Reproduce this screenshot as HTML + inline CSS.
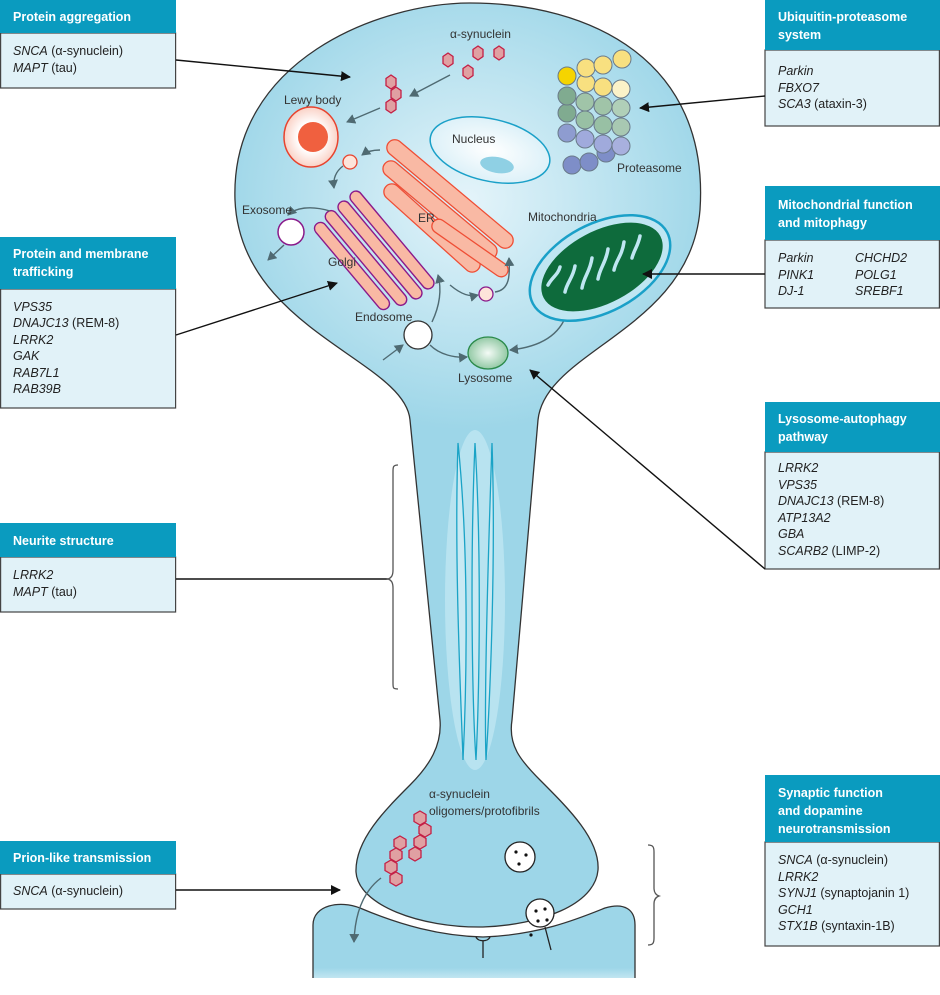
<!DOCTYPE html>
<html><head><meta charset="utf-8"><style>
body{margin:0;background:#fff;}
svg{display:block;font-family:"Liberation Sans",sans-serif;}
.h{fill:#fff;font-size:12.5px;font-weight:bold;}
.t{fill:#222;font-size:12.5px;}
.l{fill:#333;font-size:12px;}
</style></head><body>
<svg width="940" height="995" viewBox="0 0 940 995" xmlns="http://www.w3.org/2000/svg">
<defs>
<radialGradient id="cg" cx="0.5" cy="0.5" r="0.5"><stop offset="0" stop-color="#e4f4fa"/><stop offset="1" stop-color="#9dd6e8"/></radialGradient>
<linearGradient id="pg" x1="0" y1="0" x2="0" y2="1"><stop offset="0.7" stop-color="#9dd6e8"/><stop offset="1" stop-color="#ffffff"/></linearGradient>
<radialGradient id="ng" cx="0.5" cy="0.5" r="0.6"><stop offset="0" stop-color="#fff"/><stop offset="1" stop-color="#d6eef7"/></radialGradient>
<radialGradient id="lg" cx="0.5" cy="0.5" r="0.6"><stop offset="0" stop-color="#f4fbf6"/><stop offset="1" stop-color="#7fbf95"/></radialGradient>
<radialGradient id="lb" cx="0.5" cy="0.5" r="0.6"><stop offset="0.4" stop-color="#fff"/><stop offset="1" stop-color="#f8c0b0"/></radialGradient>
<clipPath id="nc"><path id="np" d="M410,420 C405,360 240,330 235,200 C230,60 380,3 470,3 C590,3 710,60 700,210 C690,330 545,350 538,420 L512,720 C508,745 520,760 540,780 C570,810 600,840 598,870 C595,905 540,925 483,927 C420,928 358,905 356,872 C355,840 385,810 410,785 C430,765 442,745 440,720 Z"/></clipPath>
<marker id="a" markerWidth="10" markerHeight="10" refX="9" refY="5" orient="auto" markerUnits="userSpaceOnUse"><path d="M0,0 L10,5 L0,10 z" fill="#111"/></marker>
<marker id="g" markerWidth="10" markerHeight="10" refX="8" refY="5" orient="auto" markerUnits="userSpaceOnUse"><path d="M0,0 L9,5 L0,10 z" fill="#4f6a72"/></marker>
</defs>

<!-- postsynaptic -->
<path d="M313,925 C313,905 340,900 360,908 C400,925 440,936 483,937 C540,935 580,918 605,908 C625,902 635,910 635,925 L635,995 L313,995 Z" fill="url(#pg)" stroke="#333" stroke-width="1.3"/>
<rect x="311" y="978" width="330" height="17" fill="#fff"/>

<!-- neuron -->
<g clip-path="url(#nc)">
<rect x="0" y="0" width="940" height="995" fill="#9dd6e8"/>
<ellipse cx="468" cy="200" rx="250" ry="230" fill="url(#cg)"/>
<ellipse cx="475" cy="600" rx="30" ry="170" fill="#b8e3f0"/>
</g>
<path d="M410,420 C405,360 240,330 235,200 C230,60 380,3 470,3 C590,3 710,60 700,210 C690,330 545,350 538,420 L512,720 C508,745 520,760 540,780 C570,810 600,840 598,870 C595,905 540,925 483,927 C420,928 358,905 356,872 C355,840 385,810 410,785 C430,765 442,745 440,720 Z" fill="none" stroke="#333" stroke-width="1.3"/>

<!-- microtubules -->
<g fill="#c8e9f3" stroke="#1aa3c6" stroke-width="1.3">
<path d="M458,443 C454,560 461,700 463,760 C466,700 470,560 458,443Z"/>
<path d="M475,443 C470,560 472,700 476,760 C479,700 482,560 475,443Z"/>
<path d="M492,443 C488,560 484,700 486,760 C490,700 496,560 492,443Z"/>
</g>

<!-- Lewy body -->
<ellipse cx="311" cy="137" rx="27" ry="30" fill="url(#lb)" stroke="#e8432e" stroke-width="1.5"/>
<circle cx="313" cy="137" r="15" fill="#f0603f"/>
<text class="l" x="284" y="104">Lewy body</text>

<!-- hexagons -->
<g fill="#e0a0a2" stroke="#c41f45" stroke-width="1.3">
<path d="M0,-7 L5,-3.5 L5,3.5 L0,7 L-5,3.5 L-5,-3.5Z" transform="translate(448,60)"/>
<path d="M0,-7 L5,-3.5 L5,3.5 L0,7 L-5,3.5 L-5,-3.5Z" transform="translate(478,53)"/>
<path d="M0,-7 L5,-3.5 L5,3.5 L0,7 L-5,3.5 L-5,-3.5Z" transform="translate(499,53)"/>
<path d="M0,-7 L5,-3.5 L5,3.5 L0,7 L-5,3.5 L-5,-3.5Z" transform="translate(468,72)"/>
<path d="M0,-7 L5,-3.5 L5,3.5 L0,7 L-5,3.5 L-5,-3.5Z" transform="translate(391,82)"/>
<path d="M0,-7 L5,-3.5 L5,3.5 L0,7 L-5,3.5 L-5,-3.5Z" transform="translate(396,94)"/>
<path d="M0,-7 L5,-3.5 L5,3.5 L0,7 L-5,3.5 L-5,-3.5Z" transform="translate(391,106)"/>
<path d="M0,-7 L6,-3.5 L6,3.5 L0,7 L-6,3.5 L-6,-3.5Z" transform="translate(420,818)"/>
<path d="M0,-7 L6,-3.5 L6,3.5 L0,7 L-6,3.5 L-6,-3.5Z" transform="translate(425,830)"/>
<path d="M0,-7 L6,-3.5 L6,3.5 L0,7 L-6,3.5 L-6,-3.5Z" transform="translate(420,842)"/>
<path d="M0,-7 L6,-3.5 L6,3.5 L0,7 L-6,3.5 L-6,-3.5Z" transform="translate(415,854)"/>
<path d="M0,-7 L6,-3.5 L6,3.5 L0,7 L-6,3.5 L-6,-3.5Z" transform="translate(400,843)"/>
<path d="M0,-7 L6,-3.5 L6,3.5 L0,7 L-6,3.5 L-6,-3.5Z" transform="translate(396,855)"/>
<path d="M0,-7 L6,-3.5 L6,3.5 L0,7 L-6,3.5 L-6,-3.5Z" transform="translate(391,867)"/>
<path d="M0,-7 L6,-3.5 L6,3.5 L0,7 L-6,3.5 L-6,-3.5Z" transform="translate(396,879)"/>
</g>
<text class="l" x="450" y="38">α-synuclein</text>

<!-- ER -->
<g fill="#f9b9a4" stroke="#ef4e35" stroke-width="1.3">
<rect x="-80" y="-8" width="160" height="16" rx="8" transform="translate(450,194) rotate(40)"/>
<rect x="-72" y="-8" width="144" height="16" rx="8" transform="translate(440,210) rotate(40)"/>
<rect x="-62" y="-8" width="124" height="16" rx="8" transform="translate(432,228) rotate(42)"/>
<rect x="-45" y="-7" width="90" height="14" rx="7" transform="translate(470,248) rotate(35)"/>
</g>
<!-- Golgi -->
<g fill="#f9b9a4" stroke="#8a1a8a" stroke-width="1.4">
<rect x="-62" y="-6" width="124" height="12" rx="6" transform="translate(392,240) rotate(50)"/>
<rect x="-62" y="-6" width="124" height="12" rx="6" transform="translate(380,250) rotate(50)"/>
<rect x="-60" y="-6" width="120" height="12" rx="6" transform="translate(366,258) rotate(50)"/>
<rect x="-55" y="-6" width="110" height="12" rx="6" transform="translate(352,266) rotate(50)"/>
</g>

<!-- grey arrows -->
<g fill="none" stroke="#4f6a72" stroke-width="1.4" marker-end="url(#g)">
<path d="M450,75 L410,96"/>
<path d="M380,108 L347,122"/>
<path d="M380,150 C372,150 366,152 362,155"/>
<path d="M343,166 C335,172 333,180 334,188"/>
<path d="M330,211 C310,205 295,208 288,215"/>
<path d="M284,245 L268,260"/>
<path d="M383,360 L403,345"/>
<path d="M432,322 C440,305 442,290 438,275"/>
<path d="M430,345 C440,355 455,358 467,357"/>
<path d="M450,285 C462,295 470,297 478,295"/>
<path d="M495,292 C510,290 510,275 509,258"/>
<path d="M567,313 C560,335 540,347 510,350"/>
<path d="M381,878 C365,890 355,910 354,942"/>
</g>

<circle cx="291" cy="232" r="13" fill="#fff" stroke="#8a1a8a" stroke-width="1.5"/>
<circle cx="350" cy="162" r="7" fill="#fde4da" stroke="#e8432e" stroke-width="1.3"/>
<circle cx="486" cy="294" r="7" fill="#fde4da" stroke="#8a1a8a" stroke-width="1.3"/>
<circle cx="418" cy="335" r="14" fill="#fff" stroke="#333" stroke-width="1.3"/>
<ellipse cx="488" cy="353" rx="20" ry="16" fill="url(#lg)" stroke="#2a8a4a" stroke-width="1.3"/>
<text class="l" x="418" y="222">ER</text>
<text class="l" x="328" y="266">Golgi</text>
<text class="l" x="242" y="214">Exosome</text>
<text class="l" x="355" y="321">Endosome</text>
<text class="l" x="458" y="382">Lysosome</text>

<!-- Nucleus -->
<ellipse cx="490" cy="150" rx="61" ry="31" transform="rotate(13 490 150)" fill="url(#ng)" stroke="#1aa0c8" stroke-width="1.5"/>
<ellipse cx="497" cy="165" rx="17" ry="8" transform="rotate(10 497 165)" fill="#8fd0e4"/>
<text class="l" x="452" y="143">Nucleus</text>

<!-- Proteasome -->
<g stroke="#6a7a8a" stroke-width="1">
<circle cx="572" cy="165" r="9" fill="#7e8ec8"/><circle cx="589" cy="162" r="9" fill="#7e8ec8"/><circle cx="606" cy="153" r="9" fill="#7e8ec8"/>
<circle cx="567" cy="133" r="9" fill="#8e9cd0"/><circle cx="585" cy="139" r="9" fill="#a0aadc"/><circle cx="603" cy="144" r="9" fill="#a0aadc"/><circle cx="621" cy="146" r="9" fill="#a8b0de"/>
<circle cx="567" cy="113" r="9" fill="#80ab90"/><circle cx="585" cy="120" r="9" fill="#98c0a4"/><circle cx="603" cy="125" r="9" fill="#98c0a4"/><circle cx="621" cy="127" r="9" fill="#a8c8b2"/>
<circle cx="567" cy="96" r="9" fill="#80ab90"/><circle cx="585" cy="102" r="9" fill="#a0c4a8"/><circle cx="603" cy="106" r="9" fill="#a0c4a8"/><circle cx="621" cy="108" r="9" fill="#b0cfb8"/>
<circle cx="567" cy="76" r="9" fill="#f5d400"/><circle cx="586" cy="83" r="9" fill="#f8e080"/><circle cx="603" cy="87" r="9" fill="#f8e080"/><circle cx="621" cy="89" r="9" fill="#fbf2c8"/>
<circle cx="586" cy="68" r="9" fill="#f8e080"/><circle cx="603" cy="65" r="9" fill="#f8e080"/><circle cx="622" cy="59" r="9" fill="#f8e080"/>
</g>
<text class="l" x="617" y="172">Proteasome</text>

<!-- Mitochondria -->
<ellipse cx="600" cy="268" rx="76" ry="44" transform="rotate(-28 600 268)" fill="#bfe6f2" stroke="#1aa0c8" stroke-width="2.5"/>
<ellipse cx="602" cy="267" rx="66" ry="36" transform="rotate(-28 602 267)" fill="#0e6b3c"/>
<g stroke="#bfe6f2" stroke-width="3.5" fill="none" stroke-linecap="round">
<path d="M548,285 c4,-8 10,-10 12,-18"/><path d="M565,292 c2,-10 8,-14 10,-26"/><path d="M582,288 c2,-12 8,-16 10,-30"/><path d="M598,279 c2,-12 8,-16 10,-30"/><path d="M614,270 c2,-10 8,-14 10,-28"/><path d="M632,258 c2,-8 6,-12 8,-22"/>
</g>
<text class="l" x="528" y="221">Mitochondria</text>

<!-- terminal -->
<text class="l" x="429" y="798">α-synuclein</text>
<text class="l" x="429" y="815">oligomers/protofibrils</text>
<circle cx="520" cy="857" r="15" fill="#fff" stroke="#222" stroke-width="1.3"/>
<g fill="#111"><circle cx="516" cy="852" r="1.6"/><circle cx="526" cy="855" r="1.6"/><circle cx="519" cy="864" r="1.6"/></g>
<circle cx="540" cy="913" r="14" fill="#fff" stroke="#222" stroke-width="1.3"/>
<g fill="#111"><circle cx="536" cy="911" r="1.6"/><circle cx="545" cy="909" r="1.6"/><circle cx="538" cy="921" r="1.6"/><circle cx="547" cy="920" r="1.6"/><circle cx="531" cy="935" r="1.6"/></g>
<path d="M476,937 C478,942 488,942 490,937" fill="none" stroke="#222" stroke-width="1.3"/>
<line x1="483" y1="941" x2="483" y2="958" stroke="#222" stroke-width="1.3"/>
<line x1="545" y1="927" x2="551" y2="950" stroke="#222" stroke-width="1.3"/>

<!-- boxes -->
<g stroke="#444" stroke-width="1.2" fill="#e1f2f8">
<rect x="0.6" y="33" width="175" height="55"/>
<rect x="0.6" y="289" width="175" height="119"/>
<rect x="0.6" y="557" width="175" height="55"/>
<rect x="0.6" y="874" width="175" height="35"/>
<rect x="765" y="50" width="174.4" height="76"/>
<rect x="765" y="240" width="174.4" height="68"/>
<rect x="765" y="452" width="174.4" height="117"/>
<rect x="765" y="842" width="174.4" height="104"/>
</g>
<g fill="#0a9bbf">
<rect x="0" y="0" width="176" height="33"/>
<rect x="0" y="237" width="176" height="52"/>
<rect x="0" y="523" width="176" height="34"/>
<rect x="0" y="841" width="176" height="33"/>
<rect x="765" y="0" width="175" height="50"/>
<rect x="765" y="186" width="175" height="54"/>
<rect x="765" y="402" width="175" height="50"/>
<rect x="765" y="775" width="175" height="67"/>
</g>
<text class="h" x="13" y="21">Protein aggregation</text>
<text class="t" x="13" y="55"><tspan font-style="italic">SNCA</tspan> (α-synuclein)</text>
<text class="t" x="13" y="72"><tspan font-style="italic">MAPT</tspan> (tau)</text>

<text class="h" x="13" y="258">Protein and membrane</text>
<text class="h" x="13" y="276">trafficking</text>
<g class="t"><text x="13" y="311" font-style="italic">VPS35</text>
<text x="13" y="327"><tspan font-style="italic">DNAJC13</tspan> (REM-8)</text>
<text x="13" y="344" font-style="italic">LRRK2</text>
<text x="13" y="360" font-style="italic">GAK</text>
<text x="13" y="377" font-style="italic">RAB7L1</text>
<text x="13" y="393" font-style="italic">RAB39B</text></g>

<text class="h" x="13" y="545">Neurite structure</text>
<text class="t" x="13" y="579" font-style="italic">LRRK2</text>
<text class="t" x="13" y="596"><tspan font-style="italic">MAPT</tspan> (tau)</text>

<text class="h" x="13" y="862">Prion-like transmission</text>
<text class="t" x="13" y="895"><tspan font-style="italic">SNCA</tspan> (α-synuclein)</text>

<text class="h" x="778" y="21">Ubiquitin-proteasome</text>
<text class="h" x="778" y="39">system</text>
<text class="t" x="778" y="75" font-style="italic">Parkin</text>
<text class="t" x="778" y="92" font-style="italic">FBXO7</text>
<text class="t" x="778" y="108"><tspan font-style="italic">SCA3</tspan> (ataxin-3)</text>

<text class="h" x="778" y="209">Mitochondrial function</text>
<text class="h" x="778" y="227">and mitophagy</text>
<g class="t" font-style="italic">
<text x="778" y="262">Parkin</text><text x="778" y="279">PINK1</text><text x="778" y="295">DJ-1</text>
<text x="855" y="262">CHCHD2</text><text x="855" y="279">POLG1</text><text x="855" y="295">SREBF1</text></g>

<text class="h" x="778" y="423">Lysosome-autophagy</text>
<text class="h" x="778" y="441">pathway</text>
<g class="t"><text x="778" y="472" font-style="italic">LRRK2</text>
<text x="778" y="489" font-style="italic">VPS35</text>
<text x="778" y="505"><tspan font-style="italic">DNAJC13</tspan> (REM-8)</text>
<text x="778" y="522" font-style="italic">ATP13A2</text>
<text x="778" y="538" font-style="italic">GBA</text>
<text x="778" y="555"><tspan font-style="italic">SCARB2</tspan> (LIMP-2)</text></g>

<text class="h" x="778" y="797">Synaptic function</text>
<text class="h" x="778" y="815">and dopamine</text>
<text class="h" x="778" y="833">neurotransmission</text>
<g class="t"><text x="778" y="864"><tspan font-style="italic">SNCA</tspan> (α-synuclein)</text>
<text x="778" y="881" font-style="italic">LRRK2</text>
<text x="778" y="897"><tspan font-style="italic">SYNJ1</tspan> (synaptojanin 1)</text>
<text x="778" y="914" font-style="italic">GCH1</text>
<text x="778" y="930"><tspan font-style="italic">STX1B</tspan> (syntaxin-1B)</text></g>

<!-- connectors -->
<g stroke="#111" stroke-width="1.4" fill="none">
<line x1="176" y1="60" x2="350" y2="77" marker-end="url(#a)"/>
<line x1="176" y1="335" x2="337" y2="283" marker-end="url(#a)"/>
<line x1="176" y1="890" x2="340" y2="890" marker-end="url(#a)"/>
<line x1="765" y1="96" x2="640" y2="108" marker-end="url(#a)"/>
<line x1="765" y1="274" x2="643" y2="274" marker-end="url(#a)"/>
<line x1="765" y1="569" x2="530" y2="370" marker-end="url(#a)"/>
<line x1="176" y1="579" x2="388" y2="579"/>
</g>
<g stroke="#555" stroke-width="1.3" fill="none">
<path d="M398,465 C393,465 393,467 393,472 L393,570 C393,576 391,578 388,579 C391,580 393,582 393,588 L393,683 C393,688 393,689 398,689"/>
<path d="M648,845 C653,845 654,847 654,852 L654,888 C654,893 656,895 659,896 C656,897 654,899 654,904 L654,938 C654,943 653,945 648,945"/>
</g>
</svg>
</body></html>
